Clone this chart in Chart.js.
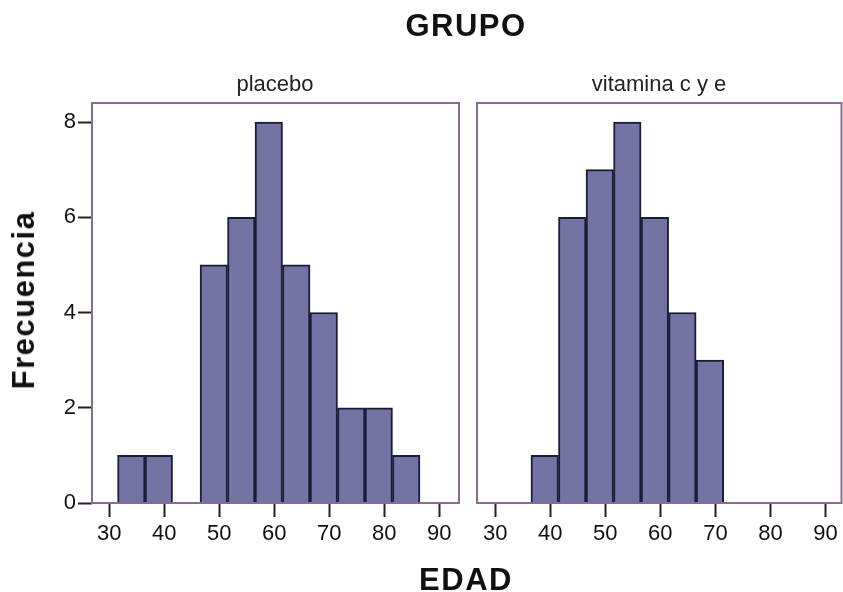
<!DOCTYPE html>
<html>
<head>
<meta charset="utf-8">
<script src="https://cdn.jsdelivr.net/npm/chart.js@4"></script>
<style>
  body { margin: 0; background: #fff; }
  #wrap { position: relative; width: 843px; height: 592px; overflow: hidden; font-family: 'Liberation Sans', Arial, sans-serif; }
  canvas { position: absolute; top: 0; }
  .lbl { position: absolute; transform: translate(-50%, -50%); white-space: nowrap; color: #111; }
  .big { font-weight: bold; font-size: 31px; letter-spacing: 1.5px; }
  .panel { font-size: 22px; color: #222; }
</style>
</head>
<body>
<div id="wrap">
  <canvas id="placebo" width="461" height="592" style="left:0"></canvas>
  <canvas id="vitamina" width="382" height="592" style="left:461px"></canvas>
  <div class="lbl big" style="left:466px; top:26px">GRUPO</div>
  <div class="lbl panel" style="left:275px; top:84px">placebo</div>
  <div class="lbl panel" style="left:659px; top:84px">vitamina c y e</div>
  <div class="lbl big" style="left:466px; top:580px">EDAD</div>
  <div class="lbl big" style="left:24px; top:300px; transform: translate(-50%, -50%) rotate(-90deg)">Frecuencia</div>
</div>
<script>
// centros de los intervalos de EDAD (ancho 5)
const binCenters = [34, 39, 44, 49, 54, 59, 64, 69, 74, 79, 84];
const placeboCounts = [1, 1, 0, 5, 6, 8, 5, 4, 2, 2, 1];
const vitaminaCounts = [0, 1, 6, 7, 8, 6, 4, 3, 0, 0, 0];
const xTicks = [30, 40, 50, 60, 70, 80, 90];
const yTicks = [0, 2, 4, 6, 8];

const BAR_FILL = '#7474a4';
const BAR_EDGE = '#1c1c3a';
const FRAME = '#8c6b92';
const tickFont = { family: "'Liberation Sans', Arial, sans-serif", size: 22 };

// marco morado alrededor del área del gráfico
const framePlugin = {
    id: 'frame',
    afterDatasetsDraw(chart) {
        const a = chart.chartArea;
        const ctx = chart.ctx;
        ctx.save();
        ctx.strokeStyle = FRAME;
        ctx.lineWidth = 2;
        ctx.strokeRect(a.left, a.top, a.right - a.left, a.bottom - a.top);
        ctx.restore();
    }
};

function makeChart(id, counts, opts) {
    const points = binCenters
        .map((c, i) => ({ x: c, y: counts[i] }))
        .filter(p => p.y > 0);

    return new Chart(document.getElementById(id), {
        type: 'bar',
        data: {
            datasets: [{
                data: points,
                backgroundColor: BAR_FILL,
                borderColor: BAR_EDGE,
                borderWidth: 2,
                borderSkipped: 'start',
                barPercentage: 1,
                categoryPercentage: 1
            }]
        },
        options: {
            responsive: false,
            animation: false,
            layout: { padding: opts.padding },
            plugins: { legend: { display: false }, tooltip: { enabled: false } },
            scales: {
                x: {
                    type: 'linear',
                    min: opts.xMin,
                    max: opts.xMax,
                    offset: false,
                    afterBuildTicks: s => { s.ticks = xTicks.map(v => ({ value: v })); },
                    afterFit: s => { s.height = 89; },
                    ticks: { font: tickFont, color: '#111', padding: 4, maxRotation: 0, autoSkip: false },
                    grid: { offset: false, drawOnChartArea: false, tickLength: 14, tickColor: '#222', tickWidth: 2 },
                    border: { display: false }
                },
                y: {
                    display: opts.showY,
                    min: 0,
                    max: 8.4,
                    afterBuildTicks: s => { s.ticks = yTicks.map(v => ({ value: v })); },
                    afterFit: s => { s.width = opts.showY ? 92 : 0; },
                    ticks: { font: tickFont, color: '#111', padding: 2 },
                    grid: { drawOnChartArea: false, tickLength: 14, tickColor: '#222', tickWidth: 2 },
                    border: { display: false }
                }
            }
        },
        plugins: [framePlugin]
    });
}

makeChart('placebo', placeboCounts, {
    xMin: 26.85, xMax: 93.6, showY: true,
    padding: { top: 103, right: 2, left: 0, bottom: 0 }
});
makeChart('vitamina', vitaminaCounts, {
    xMin: 26.7, xMax: 92.9, showY: false,
    padding: { top: 103, right: 1.5, left: 16, bottom: 0 }
});
</script>
</body>
</html>
